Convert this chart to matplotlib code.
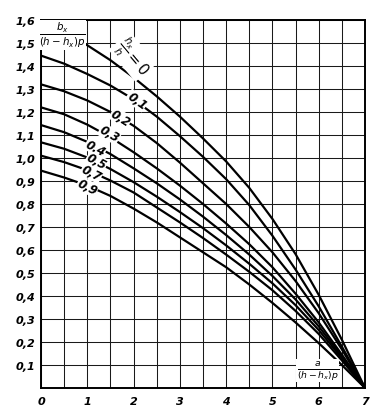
import numpy as np
import matplotlib.pyplot as plt

# abscissa a / ((h-hx)p)
x_vals = [0, 0.5, 1, 1.5, 2, 2.5, 3, 3.5, 4, 4.5, 5, 5.5, 6, 6.5, 7]

# ordinate bx / ((h-hx)p), one list per hx/h value
y_00 = [1.600, 1.550, 1.490, 1.425, 1.350, 1.268, 1.180, 1.085, 0.985, 0.870, 0.735, 0.582, 0.405, 0.210, 0]
y_01 = [1.445, 1.410, 1.365, 1.315, 1.255, 1.180, 1.095, 1.005, 0.908, 0.795, 0.662, 0.515, 0.355, 0.180, 0]
y_02 = [1.320, 1.290, 1.250, 1.200, 1.140, 1.065, 0.980, 0.890, 0.800, 0.700, 0.590, 0.465, 0.325, 0.168, 0]
y_03 = [1.220, 1.190, 1.145, 1.090, 1.025, 0.955, 0.880, 0.800, 0.715, 0.625, 0.525, 0.410, 0.285, 0.145, 0]
y_04 = [1.143, 1.112, 1.070, 1.017, 0.955, 0.890, 0.820, 0.745, 0.665, 0.580, 0.487, 0.385, 0.268, 0.138, 0]
y_05 = [1.068, 1.040, 1.002, 0.952, 0.895, 0.832, 0.765, 0.695, 0.620, 0.540, 0.455, 0.360, 0.252, 0.130, 0]
y_07 = [1.010, 0.982, 0.947, 0.902, 0.850, 0.785, 0.720, 0.652, 0.580, 0.505, 0.425, 0.335, 0.235, 0.120, 0]
y_09 = [0.945, 0.915, 0.880, 0.835, 0.780, 0.720, 0.655, 0.590, 0.525, 0.450, 0.370, 0.285, 0.195, 0.100, 0]

curves = [y_00, y_01, y_02, y_03, y_04, y_05, y_07, y_09]

# inline curve labels: text, x, y, angle
label_text = ['0,1', '0,2', '0,3', '0,4', '0,5', '0,7', '0,9']
label_x = [2.07, 1.72, 1.48, 1.18, 1.20, 1.09, 1.00]
label_y = [1.250, 1.175, 1.105, 1.045, 0.985, 0.935, 0.874]
label_rot = [-36, -32, -30, -28, -28, -27, -27]

x_ticks = [0, 1, 2, 3, 4, 5, 6, 7]
x_tick_labels = ['0', '1', '2', '3', '4', '5', '6', '7']
y_ticks = [0, 0.1, 0.2, 0.3, 0.4, 0.5, 0.6, 0.7, 0.8, 0.9, 1.0, 1.1, 1.2, 1.3, 1.4, 1.5, 1.6]
y_tick_labels = ['', '0,1', '0,2', '0,3', '0,4', '0,5', '0,6', '0,7', '0,8', '0,9',
                 '1,0', '1,1', '1,2', '1,3', '1,4', '1,5', '1,6']

fig = plt.figure(figsize=(3.89, 4.14), dpi=100)
ax = fig.add_axes([0.1054, 0.0604, 0.8329, 0.889])

for y in curves:
    ax.plot(x_vals, y, color='black', lw=1.6, solid_joinstyle='round',
            solid_capstyle='round', zorder=3)

ax.set_xlim(0, 7)
ax.set_ylim(0, 1.6)
ax.set_xticks(x_ticks)
ax.set_xticklabels(x_tick_labels)
ax.set_xticks(np.arange(0.5, 7, 1.0), minor=True)
ax.set_yticks(y_ticks)
ax.set_yticklabels(y_tick_labels)
ax.grid(True, which='both', color='#1a1a1a', lw=0.75, zorder=1)
ax.tick_params(which='both', length=0)
ax.tick_params(axis='x', pad=6)
ax.tick_params(axis='y', pad=4)
for lab in ax.get_xticklabels() + ax.get_yticklabels():
    lab.set_fontstyle('italic')
    lab.set_fontweight('bold')
    lab.set_fontsize(8)
for sp in ax.spines.values():
    sp.set_linewidth(1.4)
ax.set_axisbelow(True)

white = dict(facecolor='white', edgecolor='none', pad=0.3)
for t, lx, ly, r in zip(label_text, label_x, label_y, label_rot):
    ax.text(lx, ly, t, fontsize=8.5, style='italic', weight='bold', rotation=r,
            ha='center', va='center', bbox=white, zorder=4)

ax.text(1.98, 1.44, r'$\frac{h_x}{h}=0$', fontsize=10.5, rotation=-50,
        ha='center', va='center', bbox=white, zorder=4)
ax.text(0.46, 1.535, r'$\frac{b_x}{(h-h_x)p}$', fontsize=10.5,
        ha='center', va='center', bbox=white, zorder=4)
ax.text(5.98, 0.075, r'$\frac{a}{(h-h_x)p}$', fontsize=9.5,
        ha='center', va='center', bbox=white, zorder=4)

fig.savefig('out.png', dpi=100)
